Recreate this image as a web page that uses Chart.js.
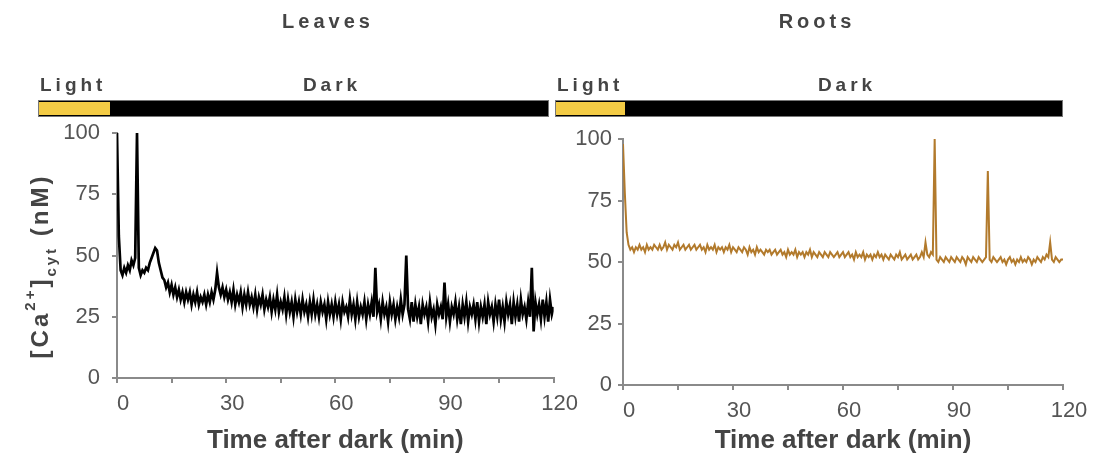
<!DOCTYPE html>
<html>
<head>
<meta charset="utf-8">
<script src="https://cdn.jsdelivr.net/npm/chart.js@4.4.1/dist/chart.umd.min.js"></script>
<style>
    html, body { margin: 0; padding: 0; background: #fff; }
    #wrap { position: relative; width: 1099px; height: 460px; overflow: hidden; }
    #wrap canvas { position: absolute; top: 0; }
</style>
</head>
<body>
<div id="wrap">
    <canvas id="leavesChart" width="580" height="460" style="left:0"></canvas>
    <canvas id="rootsChart" width="554" height="460" style="left:545px"></canvas>
</div>
<script>
// sampling step of both recordings (min)
var timeStep = 0.5;

// x ticks every 15 min, labels every 30 min
var xTickStep = 15;
var xLabelStep = 30;
var yTicks = [0, 25, 50, 75, 100];

// [Ca2+]cyt in leaves (nM), t = 0 .. 120 min
var leavesCa = [
    100, 58, 44, 42, 45, 43, 46, 44, 48, 46, 49, 100, 45, 42, 44, 43, 45, 44, 47, 49,
    51, 53, 52, 47, 44, 41, 40, 37, 39, 35, 38, 34, 37, 33, 36, 32, 35, 31, 35, 32,
    35, 30, 34, 31, 35, 30, 33, 31, 34, 30, 34, 31, 35, 32, 36, 43, 37, 34, 37, 33,
    36, 32, 35, 31, 36, 30, 34, 31, 35, 29, 34, 30, 35, 30, 33, 29, 34, 28, 33, 30,
    34, 28, 32, 29, 33, 27, 32, 28, 34, 27, 31, 28, 33, 26, 32, 27, 31, 25, 32, 27,
    31, 26, 32, 27, 30, 25, 31, 26, 32, 26, 30, 25, 31, 27, 30, 24, 31, 26, 30, 25,
    31, 26, 30, 24, 31, 27, 29, 25, 32, 26, 30, 24, 31, 25, 29, 26, 31, 24, 30, 26,
    31, 25, 45, 27, 30, 24, 31, 26, 29, 23, 31, 26, 30, 24, 29, 25, 32, 26, 30, 50,
    28, 24, 31, 23, 30, 25, 29, 22, 30, 26, 29, 23, 31, 25, 28, 22, 30, 26, 29, 24,
    39, 25, 30, 23, 29, 26, 31, 24, 29, 22, 30, 25, 31, 23, 29, 26, 30, 24, 31, 23,
    29, 25, 30, 22, 31, 26, 29, 23, 30, 25, 32, 24, 29, 23, 31, 26, 30, 22, 31, 25,
    30, 23, 32, 26, 29, 24, 31, 25, 45, 19, 31, 26, 30, 24, 32, 25, 31, 23, 32, 26,
    29
];

// [Ca2+]cyt in roots (nM), t = 0 .. 120 min
var rootsCa = [
    98, 78, 62, 57, 55, 56, 54, 56, 55, 57, 55, 56, 54, 57, 55, 56, 55, 57, 56, 55,
    57, 55, 56, 58, 55, 57, 56, 55, 57, 56, 58, 55, 56, 57, 55, 56, 57, 55, 56, 57,
    55, 56, 57, 55, 56, 54, 57, 55, 56, 55, 57, 54, 56, 55, 56, 54, 56, 55, 57, 54,
    56, 55, 54, 56, 55, 54, 56, 55, 53, 56, 54, 55, 53, 56, 54, 55, 54, 53, 55, 54,
    55, 53, 54, 55, 53, 54, 55, 53, 54, 52, 55, 53, 54, 53, 55, 52, 54, 53, 54, 52,
    54, 53, 55, 52, 54, 53, 52, 54, 53, 52, 54, 53, 52, 54, 53, 52, 53, 54, 52, 53,
    54, 52, 53, 54, 52, 53, 51, 54, 52, 53, 52, 54, 51, 53, 52, 53, 51, 53, 52, 54,
    52, 53, 51, 53, 52, 51, 53, 52, 51, 53, 52, 54, 51, 52, 53, 51, 52, 53, 51, 52,
    53, 51, 52, 54, 52, 58, 53, 52, 54, 53, 100, 51, 50, 52, 51, 50, 52, 51, 50, 52,
    51, 50, 52, 51, 50, 52, 51, 49, 52, 51, 50, 52, 51, 50, 52, 51, 50, 51, 52, 87,
    51, 50, 52, 51, 50, 51, 52, 50, 51, 49, 51, 52, 50, 51, 49, 51, 50, 52, 50, 51,
    50, 52, 51, 49, 51, 50, 52, 51, 50, 52, 51, 53, 52, 58, 51, 50, 52, 51, 50, 51,
    51
];

var axisGray = '#8a8a8a';
var textGray = '#555';
var titleGray = '#444';
var lightYellow = '#f3cb45';

function toPoints(values) {
    return values.map(function (v, i) {
        return { x: i * timeStep, y: v };
    });
}

// rotated y title with super/subscripts
function drawYTitle(ctx, cx, cy) {
    var parts = [
        { t: '[Ca', size: 24, shift: 0 },
        { t: '2+', size: 15, shift: -13 },
        { t: ']', size: 24, shift: 0 },
        { t: 'cyt', size: 15, shift: 8 },
        { t: ' (nM)', size: 24, shift: 0 }
    ];
    ctx.save();
    ctx.translate(cx, cy);
    ctx.rotate(-Math.PI / 2);
    ctx.letterSpacing = '3px';
    ctx.fillStyle = titleGray;
    ctx.textBaseline = 'alphabetic';
    ctx.textAlign = 'left';
    var total = 0;
    parts.forEach(function (p) {
        ctx.font = 'bold ' + p.size + 'px "Liberation Sans", Arial, sans-serif';
        p.w = ctx.measureText(p.t).width;
        total += p.w;
    });
    var x = -total / 2;
    parts.forEach(function (p) {
        ctx.font = 'bold ' + p.size + 'px "Liberation Sans", Arial, sans-serif';
        ctx.fillText(p.t, x, 8 + p.shift);
        x += p.w;
    });
    ctx.restore();
}

var panelDecor = {
    id: 'panelDecor',
    afterDraw: function (chart, args, opts) {
        var ctx = chart.ctx;
        ctx.save();
        ctx.letterSpacing = '4px';
        ctx.fillStyle = titleGray;
        ctx.font = 'bold 20px "Liberation Sans", Arial, sans-serif';
        ctx.textBaseline = 'middle';
        ctx.textAlign = 'center';
        ctx.fillText(opts.title, opts.titleX, 22);

        // light / dark bar
        ctx.fillStyle = '#000';
        ctx.fillRect(opts.barLeft, 100, opts.barRight - opts.barLeft, 17);
        ctx.fillStyle = lightYellow;
        ctx.fillRect(opts.barLeft + 1, 102, opts.lightEnd - opts.barLeft - 1, 13);
        ctx.strokeStyle = '#777';
        ctx.lineWidth = 1;
        ctx.strokeRect(opts.barLeft + 0.5, 100.5, opts.barRight - opts.barLeft - 1, 16);

        ctx.fillStyle = titleGray;
        ctx.font = 'bold 19px "Liberation Sans", Arial, sans-serif';
        ctx.textAlign = 'left';
        ctx.fillText('Light', opts.barLeft + 2, 86);
        ctx.textAlign = 'center';
        ctx.fillText('Dark', opts.darkX, 86);
        ctx.restore();

        if (opts.yTitle) {
            drawYTitle(ctx, 40, 266);
        }
    }
};

function makeOptions(yWidth, xHeight, padRight, padTop, yPad, decor) {
    return {
        responsive: false,
        animation: false,
        layout: { padding: { left: 0, right: padRight, top: padTop, bottom: 0 } },
        plugins: {
            legend: { display: false },
            tooltip: { enabled: false },
            panelDecor: decor
        },
        scales: {
            x: {
                type: 'linear',
                min: 0,
                max: 120,
                afterFit: function (s) { s.height = xHeight; },
                grid: { drawOnChartArea: false, drawTicks: true, tickLength: 5, color: axisGray, lineWidth: 2 },
                border: { display: true, color: axisGray, width: 2 },
                ticks: {
                    stepSize: xTickStep,
                    autoSkip: false,
                    maxRotation: 0,
                    padding: 8,
                    labelOffset: 6,
                    color: textGray,
                    font: { family: '"Liberation Sans", Arial, sans-serif', size: 22 },
                    callback: function (v) { return v % xLabelStep === 0 ? v : ''; }
                },
                title: {
                    display: true,
                    text: 'Time after dark (min)',
                    color: titleGray,
                    padding: { top: 0, bottom: 4 },
                    font: { family: '"Liberation Sans", Arial, sans-serif', size: 26, weight: 'bold' }
                }
            },
            y: {
                min: 0,
                max: 100,
                afterFit: function (s) { s.width = yWidth; },
                afterBuildTicks: function (s) {
                    s.ticks = yTicks.map(function (v) { return { value: v }; });
                },
                grid: { drawOnChartArea: false, drawTicks: true, tickLength: 5, color: axisGray, lineWidth: 2 },
                border: { display: true, color: axisGray, width: 2 },
                ticks: {
                    padding: yPad,
                    color: textGray,
                    font: { family: '"Liberation Sans", Arial, sans-serif', size: 22 }
                }
            }
        }
    };
}

var leavesChart = new Chart(document.getElementById('leavesChart'), {
    type: 'line',
    data: {
        datasets: [{
            label: 'Leaves',
            data: toPoints(leavesCa),
            borderColor: '#000',
            borderWidth: 2.7,
            borderJoinStyle: 'miter',
            pointRadius: 0,
            tension: 0
        }]
    },
    options: makeOptions(117, 82, 24, 133, 12, {
        title: 'Leaves', titleX: 328,
        barLeft: 38, barRight: 549, lightEnd: 110, darkX: 332,
        yTitle: true
    }),
    plugins: [panelDecor]
});

var rootsChart = new Chart(document.getElementById('rootsChart'), {
    type: 'line',
    data: {
        datasets: [{
            label: 'Roots',
            data: toPoints(rootsCa),
            borderColor: '#b27a2c',
            borderWidth: 2,
            pointRadius: 0,
            tension: 0
        }]
    },
    options: makeOptions(78, 75, 36, 139, 6, {
        title: 'Roots', titleX: 272,
        barLeft: 10, barRight: 518, lightEnd: 80, darkX: 302,
        yTitle: false
    }),
    plugins: [panelDecor]
});
</script>
</body>
</html>
